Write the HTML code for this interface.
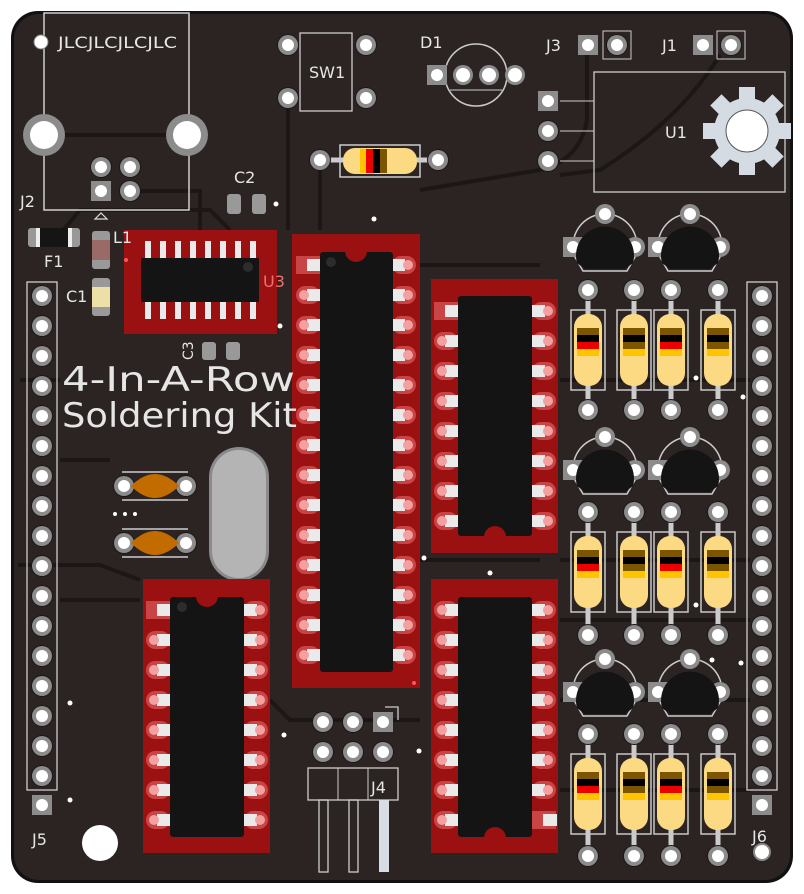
<!DOCTYPE html>
<html><head><meta charset="utf-8"><style>
html,body{margin:0;padding:0;background:#fff;}
svg{display:block;}
text{font-family:"DejaVu Sans","Liberation Sans",sans-serif;fill:#e6e6e6;}
</style></head><body>
<svg width="804" height="894" viewBox="0 0 804 894" xmlns="http://www.w3.org/2000/svg">
<defs>
<g id="p"><circle r="11" fill="#1c1615"/><circle r="10" fill="#8c8c8c"/><circle r="6" fill="#fff"/></g>
<g id="sq"><rect x="-10" y="-10" width="20" height="20" fill="#8c8c8c"/><circle r="6" fill="#fff"/></g>
<g id="hp"><circle r="10" fill="#8c8c8c"/><circle r="7" fill="#fff"/></g>
<g id="rl"><rect x="-12" y="-9" width="24" height="18" rx="9" fill="#c94444"/><rect x="-1" y="-6" width="14" height="12" fill="#eaeaea"/><circle cx="-4" r="5" fill="#f3a0a0"/></g>
<g id="rr"><rect x="-12" y="-9" width="24" height="18" rx="9" fill="#c94444"/><rect x="-13" y="-6" width="14" height="12" fill="#eaeaea"/><circle cx="4" r="5" fill="#f3a0a0"/></g>
<g id="rs"><rect x="-12" y="-9" width="24" height="18" fill="#c94444"/><rect x="-1" y="-6" width="14" height="12" fill="#eaeaea"/></g>
<g id="resA"><rect x="-17" y="-40" width="34" height="80" fill="none" stroke="#c8c8c8" stroke-width="1.5"/><rect x="-14" y="-36" width="28" height="72" rx="13" fill="#fcd983"/><rect x="-11" y="-22" width="22" height="7" fill="#7c5500"/><rect x="-11" y="-15" width="22" height="7" fill="#000"/><rect x="-11" y="-8" width="22" height="7" fill="#ee0000"/><rect x="-11" y="-1" width="22" height="7" fill="#ffc400"/></g>
<g id="resB"><rect x="-17" y="-40" width="34" height="80" fill="none" stroke="#c8c8c8" stroke-width="1.5"/><rect x="-14" y="-36" width="28" height="72" rx="13" fill="#fcd983"/><rect x="-11" y="-22" width="22" height="7" fill="#7c5500"/><rect x="-11" y="-15" width="22" height="7" fill="#000"/><rect x="-11" y="-8" width="22" height="7" fill="#7c5500"/><rect x="-11" y="-1" width="22" height="7" fill="#ffc400"/></g>
<g id="tr"><path d="M-30,10 A32,32 0 1 1 30,10 L22,24 L-22,24 Z" fill="none" stroke="#ccc" stroke-width="1.5"/><rect x="-42" y="-10" width="20" height="20" fill="#8c8c8c"/><circle cx="-32" r="6" fill="#fff"/><circle cx="30" r="10" fill="#8c8c8c"/><circle cx="30" r="6" fill="#fff"/><circle cy="-33" r="10" fill="#8c8c8c"/><circle cy="-33" r="6" fill="#fff"/><path d="M-28,16 A29,29 0 1 1 28,16 L20,22 L-20,22 Z" fill="#141414"/></g>
<g id="cap"><line x1="-33" y1="-14" x2="33" y2="-14" stroke="#ccc" stroke-width="1.5"/><line x1="-33" y1="14" x2="33" y2="14" stroke="#ccc" stroke-width="1.5"/><use href="#p" x="-31"/><use href="#p" x="31"/><path d="M-24,0 Q0,-24 24,0 Q0,24 -24,0Z" fill="#c26c00"/></g>
</defs>
<rect x="11" y="11" width="782" height="872" rx="27" fill="#111"/>
<rect x="14" y="14" width="776" height="866" rx="25" fill="#2b2422"/>
<g stroke="#1c1615" stroke-width="4" fill="none">
<path d="M288,98 L288,230"/><path d="M320,160 L320,230"/><path d="M55,240 L80,210 L210,210 L230,230"/>
<path d="M140,191 L200,191 L200,230"/><path d="M587,55 L587,120 Q580,160 540,170 L420,190"/>
<path d="M720,55 Q680,120 600,170 L560,175"/><path d="M60,600 L140,600"/><path d="M420,265 L540,265"/>
<path d="M560,380 L750,380"/><path d="M560,560 L750,560"/><path d="M560,620 L750,620"/><path d="M20,380 L60,380"/>
<path d="M270,700 L290,720 L420,720"/><path d="M60,460 L110,460"/><path d="M18,565 L100,565 L140,580"/>
<path d="M560,700 L750,700"/><path d="M560,790 L750,790"/><path d="M420,560 L540,560"/>
</g>
<rect x="44" y="13" width="145" height="197" fill="none" stroke="#d0d0d0" stroke-width="1.5"/>
<line x1="44" y1="135" x2="187" y2="135" stroke="#1c1615" stroke-width="4"/>
<circle cx="44" cy="135" r="21" fill="#8c8c8c"/><circle cx="44" cy="135" r="14" fill="#fff"/>
<circle cx="187" cy="135" r="21" fill="#8c8c8c"/><circle cx="187" cy="135" r="14" fill="#fff"/>
<use href="#p" x="101" y="167"/><use href="#p" x="130" y="167"/><use href="#sq" x="101" y="191"/><use href="#p" x="130" y="191"/>
<path d="M95,219 L101,213 L107,219Z" fill="none" stroke="#ddd" stroke-width="1.2"/>
<circle cx="41" cy="42" r="7" fill="#fff" stroke="#888"/>
<text x="58" y="48" font-size="16" textLength="119" lengthAdjust="spacingAndGlyphs">JLCJLCJLCJLC</text>
<text x="20" y="207" font-size="16">J2</text>
<rect x="28" y="228" width="52" height="19" rx="3" fill="#999"/><rect x="36" y="228" width="36" height="19" fill="#eee"/><rect x="40" y="228" width="28" height="19" fill="#151515"/>
<text x="44" y="267" font-size="16">F1</text>
<rect x="92" y="231" width="18" height="38" rx="3" fill="#999"/><rect x="92" y="240" width="18" height="20" fill="#9a6a66"/>
<rect x="92" y="278" width="18" height="38" rx="3" fill="#999"/><rect x="92" y="287" width="18" height="20" fill="#ecdfa8"/>
<text x="66" y="302" font-size="16">C1</text>
<rect x="227" y="194" width="14" height="20" rx="3" fill="#999"/><rect x="252" y="194" width="14" height="20" rx="3" fill="#999"/>
<text x="234" y="183" font-size="16">C2</text><circle cx="276" cy="204" r="2.5" fill="#fff"/>
<rect x="202" y="342" width="14" height="18" rx="3" fill="#999"/><rect x="226" y="342" width="14" height="18" rx="3" fill="#999"/>
<text x="0" y="0" font-size="14" transform="translate(193,360) rotate(-90)">C3</text>
<rect x="124" y="230" width="153" height="104" fill="#9b1010"/>
<g fill="#eaeaea"><rect x="145" y="241" width="6" height="17"/><rect x="160" y="241" width="6" height="17"/><rect x="175" y="241" width="6" height="17"/><rect x="190" y="241" width="6" height="17"/><rect x="205" y="241" width="6" height="17"/><rect x="220" y="241" width="6" height="17"/><rect x="235" y="241" width="6" height="17"/><rect x="250" y="241" width="6" height="17"/>
<rect x="145" y="302" width="6" height="17"/><rect x="160" y="302" width="6" height="17"/><rect x="175" y="302" width="6" height="17"/><rect x="190" y="302" width="6" height="17"/><rect x="205" y="302" width="6" height="17"/><rect x="220" y="302" width="6" height="17"/><rect x="235" y="302" width="6" height="17"/><rect x="250" y="302" width="6" height="17"/></g>
<rect x="141" y="258" width="118" height="44" fill="#141414"/><circle cx="248" cy="267" r="5" fill="#2c2c2c"/>
<text x="263" y="287" font-size="16" style="fill:#f07070">U3</text>
<text x="113" y="243" font-size="16">L1</text>
<circle cx="126" cy="260" r="2" fill="#f55"/><circle cx="280" cy="326" r="2.5" fill="#fff"/>
<rect x="300" y="33" width="52" height="78" fill="none" stroke="#ccc" stroke-width="1.3"/>
<use href="#p" x="288" y="45"/><use href="#p" x="366" y="45"/><use href="#p" x="288" y="98"/><use href="#p" x="366" y="98"/>
<text x="309" y="78" font-size="16">SW1</text>
<line x1="320" y1="160" x2="438" y2="160" stroke="#ccc" stroke-width="5"/>
<use href="#p" x="320" y="160"/><use href="#p" x="438" y="160"/>
<rect x="340" y="145" width="80" height="32" fill="none" stroke="#ccc" stroke-width="1.5"/>
<rect x="343" y="148" width="74" height="26" rx="12" fill="#fcd983"/>
<rect x="360" y="149" width="6" height="24" fill="#ffc400"/><rect x="366" y="149" width="7" height="24" fill="#e00"/><rect x="373" y="149" width="7" height="24" fill="#000"/><rect x="380" y="149" width="7" height="24" fill="#7c5500"/>
<circle cx="374" cy="219" r="2.5" fill="#fff"/>
<circle cx="476" cy="75" r="31" fill="none" stroke="#ccc" stroke-width="1.5"/>
<path d="M450,90 L502,90" stroke="#ccc"/>
<use href="#sq" x="437" y="75"/><use href="#hp" x="463" y="75"/><use href="#hp" x="489" y="75"/><use href="#hp" x="515" y="75"/>
<text x="420" y="48" font-size="16">D1</text>
<text x="546" y="51" font-size="16">J3</text><use href="#sq" x="588" y="45"/><rect x="603" y="31" width="28" height="28" fill="none" stroke="#ccc"/><use href="#p" x="617" y="45"/>
<text x="662" y="51" font-size="16">J1</text><use href="#sq" x="703" y="45"/><rect x="717" y="31" width="28" height="28" fill="none" stroke="#ccc"/><use href="#p" x="731" y="45"/>
<rect x="594" y="72" width="191" height="120" fill="none" stroke="#ccc" stroke-width="1.3"/>
<line x1="560" y1="101" x2="594" y2="101" stroke="#ccc"/><line x1="560" y1="131" x2="594" y2="131" stroke="#ccc"/><line x1="560" y1="161" x2="594" y2="161" stroke="#ccc"/>
<use href="#sq" x="548" y="101"/><use href="#p" x="548" y="131"/><use href="#p" x="548" y="161"/>
<text x="665" y="138" font-size="16">U1</text>
<g transform="translate(747,131)" fill="#d4dbe2">
<circle r="33"/>
<rect x="-8" y="-44" width="16" height="16"/><rect x="-8" y="-44" width="16" height="16" transform="rotate(45)"/><rect x="-8" y="-44" width="16" height="16" transform="rotate(90)"/><rect x="-8" y="-44" width="16" height="16" transform="rotate(135)"/><rect x="-8" y="-44" width="16" height="16" transform="rotate(180)"/><rect x="-8" y="-44" width="16" height="16" transform="rotate(225)"/><rect x="-8" y="-44" width="16" height="16" transform="rotate(270)"/><rect x="-8" y="-44" width="16" height="16" transform="rotate(315)"/>
<circle r="21" fill="#fff" stroke="#555"/></g>
<rect x="27" y="282" width="30" height="508" fill="none" stroke="#ccc" stroke-width="1.3"/>
<g><use href="#p" x="42" y="296"/><use href="#p" x="42" y="326"/><use href="#p" x="42" y="356"/><use href="#p" x="42" y="386"/><use href="#p" x="42" y="416"/><use href="#p" x="42" y="446"/><use href="#p" x="42" y="476"/><use href="#p" x="42" y="506"/><use href="#p" x="42" y="536"/><use href="#p" x="42" y="566"/><use href="#p" x="42" y="596"/><use href="#p" x="42" y="626"/><use href="#p" x="42" y="656"/><use href="#p" x="42" y="686"/><use href="#p" x="42" y="716"/><use href="#p" x="42" y="746"/><use href="#p" x="42" y="776"/></g>
<use href="#sq" x="42" y="805"/><text x="32" y="845" font-size="16">J5</text>
<rect x="747" y="282" width="30" height="508" fill="none" stroke="#ccc" stroke-width="1.3"/>
<g><use href="#p" x="762" y="296"/><use href="#p" x="762" y="326"/><use href="#p" x="762" y="356"/><use href="#p" x="762" y="386"/><use href="#p" x="762" y="416"/><use href="#p" x="762" y="446"/><use href="#p" x="762" y="476"/><use href="#p" x="762" y="506"/><use href="#p" x="762" y="536"/><use href="#p" x="762" y="566"/><use href="#p" x="762" y="596"/><use href="#p" x="762" y="626"/><use href="#p" x="762" y="656"/><use href="#p" x="762" y="686"/><use href="#p" x="762" y="716"/><use href="#p" x="762" y="746"/><use href="#p" x="762" y="776"/></g>
<use href="#sq" x="762" y="805"/><text x="752" y="842" font-size="16">J6</text>
<circle cx="762" cy="852" r="8" fill="#fff" stroke="#888" stroke-width="2"/>
<circle cx="100" cy="843" r="18" fill="#fff"/>
<use href="#cap" x="155" y="486"/><use href="#cap" x="155" y="543"/>
<circle cx="115" cy="514" r="2" fill="#fff"/><circle cx="125" cy="514" r="2" fill="#fff"/><circle cx="135" cy="514" r="2" fill="#fff"/>
<rect x="209" y="447" width="60" height="134" rx="30" fill="#8a8a8a"/><rect x="212" y="450" width="54" height="128" rx="27" fill="#b4b4b4"/>
<rect x="292" y="234" width="128" height="454" fill="#9b1010"/>
<g><use href="#rs" x="308" y="265"/><use href="#rl" x="308" y="295"/><use href="#rl" x="308" y="325"/><use href="#rl" x="308" y="355"/><use href="#rl" x="308" y="385"/><use href="#rl" x="308" y="415"/><use href="#rl" x="308" y="445"/><use href="#rl" x="308" y="475"/><use href="#rl" x="308" y="505"/><use href="#rl" x="308" y="535"/><use href="#rl" x="308" y="565"/><use href="#rl" x="308" y="595"/><use href="#rl" x="308" y="625"/><use href="#rl" x="308" y="655"/>
<use href="#rr" x="404" y="265"/><use href="#rr" x="404" y="295"/><use href="#rr" x="404" y="325"/><use href="#rr" x="404" y="355"/><use href="#rr" x="404" y="385"/><use href="#rr" x="404" y="415"/><use href="#rr" x="404" y="445"/><use href="#rr" x="404" y="475"/><use href="#rr" x="404" y="505"/><use href="#rr" x="404" y="535"/><use href="#rr" x="404" y="565"/><use href="#rr" x="404" y="595"/><use href="#rr" x="404" y="625"/><use href="#rr" x="404" y="655"/></g>
<rect x="320" y="252" width="73" height="420" rx="3" fill="#141414"/><path d="M345,251 A11,11 0 0 0 367,251Z" fill="#9b1010"/><circle cx="331" cy="262" r="5" fill="#2c2c2c"/>
<circle cx="414" cy="683" r="2" fill="#f55"/>
<rect x="431" y="279" width="127" height="274" fill="#9b1010"/>
<g><use href="#rs" x="446" y="311"/><use href="#rl" x="446" y="341"/><use href="#rl" x="446" y="371"/><use href="#rl" x="446" y="401"/><use href="#rl" x="446" y="431"/><use href="#rl" x="446" y="461"/><use href="#rl" x="446" y="491"/><use href="#rl" x="446" y="521"/>
<use href="#rr" x="544" y="311"/><use href="#rr" x="544" y="341"/><use href="#rr" x="544" y="371"/><use href="#rr" x="544" y="401"/><use href="#rr" x="544" y="431"/><use href="#rr" x="544" y="461"/><use href="#rr" x="544" y="491"/><use href="#rr" x="544" y="521"/></g>
<rect x="458" y="296" width="74" height="240" rx="3" fill="#141414"/><path d="M484,537 A11,11 0 0 1 506,537Z" fill="#9b1010"/>
<rect x="431" y="579" width="127" height="274" fill="#9b1010"/>
<g><use href="#rl" x="446" y="610"/><use href="#rl" x="446" y="640"/><use href="#rl" x="446" y="670"/><use href="#rl" x="446" y="700"/><use href="#rl" x="446" y="730"/><use href="#rl" x="446" y="760"/><use href="#rl" x="446" y="790"/><use href="#rl" x="446" y="820"/>
<use href="#rr" x="544" y="610"/><use href="#rr" x="544" y="640"/><use href="#rr" x="544" y="670"/><use href="#rr" x="544" y="700"/><use href="#rr" x="544" y="730"/><use href="#rr" x="544" y="760"/><use href="#rr" x="544" y="790"/><use href="#rs" x="544" y="820"/></g>
<rect x="458" y="597" width="74" height="240" rx="3" fill="#141414"/><path d="M484,838 A11,11 0 0 1 506,838Z" fill="#9b1010"/>
<rect x="143" y="579" width="127" height="274" fill="#9b1010"/>
<g><use href="#rs" x="158" y="610"/><use href="#rl" x="158" y="640"/><use href="#rl" x="158" y="670"/><use href="#rl" x="158" y="700"/><use href="#rl" x="158" y="730"/><use href="#rl" x="158" y="760"/><use href="#rl" x="158" y="790"/><use href="#rl" x="158" y="820"/>
<use href="#rr" x="256" y="610"/><use href="#rr" x="256" y="640"/><use href="#rr" x="256" y="670"/><use href="#rr" x="256" y="700"/><use href="#rr" x="256" y="730"/><use href="#rr" x="256" y="760"/><use href="#rr" x="256" y="790"/><use href="#rr" x="256" y="820"/></g>
<rect x="170" y="597" width="74" height="240" rx="3" fill="#141414"/><path d="M196,596 A11,11 0 0 0 218,596Z" fill="#9b1010"/><circle cx="182" cy="607" r="5" fill="#2c2c2c"/>
<rect x="308" y="768" width="90" height="32" fill="none" stroke="#ccc" stroke-width="1.3"/><line x1="338" y1="768" x2="338" y2="800" stroke="#ccc"/><line x1="368" y1="768" x2="368" y2="800" stroke="#ccc"/>
<rect x="319" y="800" width="9" height="72" fill="none" stroke="#ccc" stroke-width="1.3"/><rect x="349" y="800" width="9" height="72" fill="none" stroke="#ccc" stroke-width="1.3"/><rect x="379" y="800" width="10" height="72" fill="#d6dde3"/>
<use href="#p" x="323" y="722"/><use href="#p" x="353" y="722"/><use href="#sq" x="383" y="722"/><use href="#p" x="323" y="752"/><use href="#p" x="353" y="752"/><use href="#p" x="383" y="752"/>
<path d="M385,707 L398,707 L398,720" fill="none" stroke="#ccc" stroke-width="1.3"/>
<text x="371" y="793" font-size="16">J4</text>
<circle cx="284" cy="735" r="2.5" fill="#fff"/><circle cx="419" cy="751" r="2.5" fill="#fff"/><circle cx="70" cy="703" r="2.5" fill="#fff"/><circle cx="70" cy="800" r="2.5" fill="#fff"/>
<circle cx="490" cy="573" r="2.5" fill="#fff"/><circle cx="424" cy="558" r="2.5" fill="#fff"/><circle cx="696" cy="378" r="2.5" fill="#fff"/><circle cx="743" cy="397" r="2.5" fill="#fff"/><circle cx="696" cy="605" r="2.5" fill="#fff"/><circle cx="712" cy="660" r="2.5" fill="#fff"/><circle cx="741" cy="663" r="2.5" fill="#fff"/>
<use href="#tr" x="605" y="247"/><use href="#tr" x="690" y="247"/><use href="#tr" x="605" y="470"/><use href="#tr" x="690" y="470"/><use href="#tr" x="605" y="692"/><use href="#tr" x="690" y="692"/>
<g stroke="#ccc" stroke-width="5"><line x1="588" y1="290" x2="588" y2="410"/><line x1="634" y1="290" x2="634" y2="410"/><line x1="671" y1="290" x2="671" y2="410"/><line x1="718" y1="290" x2="718" y2="410"/>
<line x1="588" y1="512" x2="588" y2="635"/><line x1="634" y1="512" x2="634" y2="635"/><line x1="671" y1="512" x2="671" y2="635"/><line x1="718" y1="512" x2="718" y2="635"/>
<line x1="588" y1="734" x2="588" y2="856"/><line x1="634" y1="734" x2="634" y2="856"/><line x1="671" y1="734" x2="671" y2="856"/><line x1="718" y1="734" x2="718" y2="856"/></g>
<g><use href="#p" x="588" y="290"/><use href="#p" x="634" y="290"/><use href="#p" x="671" y="290"/><use href="#p" x="718" y="290"/><use href="#p" x="588" y="410"/><use href="#p" x="634" y="410"/><use href="#p" x="671" y="410"/><use href="#p" x="718" y="410"/>
<use href="#p" x="588" y="512"/><use href="#p" x="634" y="512"/><use href="#p" x="671" y="512"/><use href="#p" x="718" y="512"/><use href="#p" x="588" y="635"/><use href="#p" x="634" y="635"/><use href="#p" x="671" y="635"/><use href="#p" x="718" y="635"/>
<use href="#p" x="588" y="734"/><use href="#p" x="634" y="734"/><use href="#p" x="671" y="734"/><use href="#p" x="718" y="734"/><use href="#p" x="588" y="856"/><use href="#p" x="634" y="856"/><use href="#p" x="671" y="856"/><use href="#p" x="718" y="856"/></g>
<use href="#resA" x="588" y="350"/><use href="#resB" x="634" y="350"/><use href="#resA" x="671" y="350"/><use href="#resB" x="718" y="350"/>
<use href="#resA" x="588" y="572"/><use href="#resB" x="634" y="572"/><use href="#resA" x="671" y="572"/><use href="#resB" x="718" y="572"/>
<use href="#resA" x="588" y="794"/><use href="#resB" x="634" y="794"/><use href="#resA" x="671" y="794"/><use href="#resB" x="718" y="794"/>
<text x="62" y="391" font-size="34" textLength="233" lengthAdjust="spacingAndGlyphs">4-In-A-Row</text>
<text x="62" y="427" font-size="34" textLength="235" lengthAdjust="spacingAndGlyphs">Soldering Kit</text>
</svg>
</body></html>
